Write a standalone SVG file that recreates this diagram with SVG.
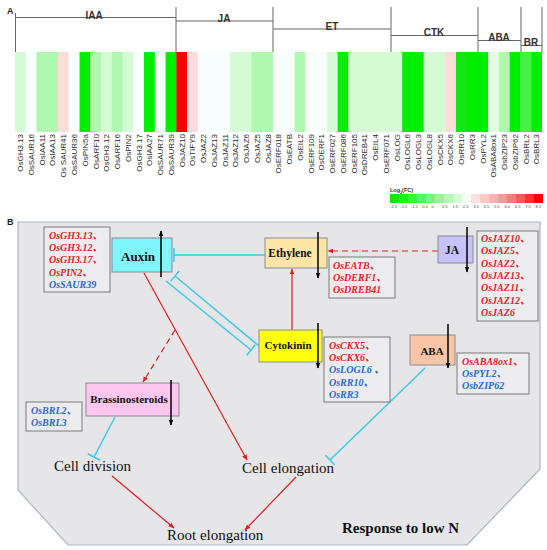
<svg xmlns="http://www.w3.org/2000/svg" width="547" height="550" viewBox="0 0 547 550">
<style>
.hl{font-family:"Liberation Sans",Arial,sans-serif;font-size:8px;fill:#2a2a2a;text-anchor:end}
.grp{font-family:"Liberation Sans",Arial,sans-serif;font-weight:bold;font-size:10px;fill:#333;text-anchor:middle}
.br{stroke:#666;stroke-width:1;fill:none}
.W{fill:#f8fdfd}.L{fill:#d4fbd4}.M{fill:#b0f7b0}.P{fill:#ffdcdc}.G{fill:#00ee00}.G2{fill:#14e614}.G3{fill:#44f044}.R{fill:#ff0000}.VL{fill:#e2fde2}
.tk{font-family:"Liberation Sans",Arial,sans-serif;font-size:4px;fill:#444}
.nb{stroke:#8a8a9a;stroke-width:1}
.nt{font-family:"Liberation Serif","Times New Roman",serif;font-weight:bold;fill:#111;text-anchor:middle}
.gbox{fill:#ececee;stroke:#7a7a7a;stroke-width:1}
.gt{font-family:"Liberation Serif","Times New Roman","Noto Sans CJK SC",serif;font-weight:bold;font-style:italic;font-size:10px}
.r{fill:#e3242b}.b{fill:#2a6ad0}
.cy{stroke:#3cc8ea;stroke-width:1.5;fill:none}
.rd{stroke:#e02020;stroke-width:1.2;fill:none}
.ind{stroke:#000;stroke-width:1.5}
.lab{font-family:"Liberation Serif","Times New Roman",serif;font-size:15px;fill:#111}
</style>
<defs>
<marker id="ahr" viewBox="0 0 10 10" refX="9" refY="5" markerWidth="6" markerHeight="6" orient="auto" markerUnits="userSpaceOnUse"><path d="M0,1 L10,5 L0,9 z" fill="#e02020"/></marker>
<marker id="ahk" viewBox="0 0 10 10" refX="9" refY="5" markerWidth="6" markerHeight="6" orient="auto" markerUnits="userSpaceOnUse"><path d="M0,1 L10,5 L0,9 z" fill="#000"/></marker>
<marker id="tb" viewBox="-2 -7 4 14" refX="0" refY="0" markerWidth="4" markerHeight="14" orient="auto" markerUnits="userSpaceOnUse"><path d="M0,-7 L0,7" stroke="#3cc8ea" stroke-width="1.5"/></marker>
</defs>
<rect width="547" height="550" fill="#fff"/>

<g id="panelA">
<text x="7" y="14" font-family="Liberation Sans,Arial,sans-serif" font-weight="bold" font-size="9" fill="#222">A</text>
<g id="brackets">
<path class="br" d="M15.5,13 V52 M176,7 V52 M273,7 V52 M391,7 V52 M478,7 V52 M521,7 V52 M542,7 V52"/>
<path class="br" d="M15.5,17.5 H176 M176,21 H273 M273,29 H391 M391,35.5 H478 M478,40.5 H521 M521,45.5 H542"/>
<text class="grp" x="94" y="18.5">IAA</text>
<text class="grp" x="224" y="22">JA</text>
<text class="grp" x="332" y="30">ET</text>
<text class="grp" x="434" y="36">CTK</text>
<text class="grp" x="499" y="41">ABA</text>
<text class="grp" x="531" y="46">BR</text>
</g>
<g id="heatmap">
<rect class="L" x="15.00" y="52" width="11.06" height="80"/>
<rect class="W" x="25.76" y="52" width="11.05" height="80"/>
<rect class="M" x="36.51" y="52" width="21.81" height="80"/>
<rect class="P" x="58.02" y="52" width="11.06" height="80"/>
<rect class="W" x="68.78" y="52" width="11.05" height="80"/>
<rect class="G" x="79.53" y="52" width="11.06" height="80"/>
<rect class="M" x="90.29" y="52" width="11.05" height="80"/>
<rect class="L" x="101.04" y="52" width="11.06" height="80"/>
<rect class="M" x="111.80" y="52" width="11.05" height="80"/>
<rect class="L" x="122.55" y="52" width="11.06" height="80"/>
<rect class="W" x="133.31" y="52" width="11.05" height="80"/>
<rect class="G" x="144.06" y="52" width="11.06" height="80"/>
<rect class="W" x="154.82" y="52" width="11.05" height="80"/>
<rect class="G" x="165.57" y="52" width="11.06" height="80"/>
<rect class="R" x="176.33" y="52" width="11.05" height="80"/>
<rect class="P" x="187.08" y="52" width="11.06" height="80"/>
<rect class="W" x="197.84" y="52" width="32.56" height="80"/>
<rect class="L" x="230.10" y="52" width="21.81" height="80"/>
<rect class="M" x="251.61" y="52" width="21.81" height="80"/>
<rect class="W" x="273.12" y="52" width="21.81" height="80"/>
<rect class="M" x="294.63" y="52" width="11.06" height="80"/>
<rect class="W" x="305.39" y="52" width="21.81" height="80"/>
<rect class="L" x="326.90" y="52" width="11.05" height="80"/>
<rect class="G" x="337.65" y="52" width="11.06" height="80"/>
<rect class="L" x="348.41" y="52" width="54.07" height="80"/>
<rect class="G" x="402.18" y="52" width="21.81" height="80"/>
<rect class="L" x="423.69" y="52" width="21.81" height="80"/>
<rect class="P" x="445.20" y="52" width="11.06" height="80"/>
<rect class="G2" x="455.96" y="52" width="11.05" height="80"/>
<rect class="G" x="466.71" y="52" width="21.81" height="80"/>
<rect class="VL" x="488.22" y="52" width="11.06" height="80"/>
<rect class="M" x="498.98" y="52" width="11.05" height="80"/>
<rect class="G" x="509.73" y="52" width="11.06" height="80"/>
<rect class="G3" x="520.49" y="52" width="11.05" height="80"/>
<rect class="G" x="531.24" y="52" width="10.76" height="80"/>
</g>
<g id="geneLabels">
<text class="hl" transform="translate(23.2,134) rotate(-90)">OsGH3.13</text>
<text class="hl" transform="translate(33.9,134) rotate(-90)">OsSAUR16</text>
<text class="hl" transform="translate(44.7,134) rotate(-90)">OsIAA11</text>
<text class="hl" transform="translate(55.4,134) rotate(-90)">OsIAA13</text>
<text class="hl" transform="translate(66.2,134) rotate(-90)">Os SAUR41</text>
<text class="hl" transform="translate(77.0,134) rotate(-90)">OsSAUR36</text>
<text class="hl" transform="translate(87.7,134) rotate(-90)">OsPIN5a</text>
<text class="hl" transform="translate(98.5,134) rotate(-90)">OsARF10</text>
<text class="hl" transform="translate(109.2,134) rotate(-90)">OsGH3.12</text>
<text class="hl" transform="translate(120.0,134) rotate(-90)">OsARF16</text>
<text class="hl" transform="translate(130.7,134) rotate(-90)">OsPIN2</text>
<text class="hl" transform="translate(141.5,134) rotate(-90)">OsGH3.17</text>
<text class="hl" transform="translate(152.2,134) rotate(-90)">OsIAA27</text>
<text class="hl" transform="translate(163.0,134) rotate(-90)">OsSAUR71</text>
<text class="hl" transform="translate(173.8,134) rotate(-90)">OsSAUR39</text>
<text class="hl" transform="translate(184.5,134) rotate(-90)">OsJAZ10</text>
<text class="hl" transform="translate(195.3,134) rotate(-90)">OsTIFY9</text>
<text class="hl" transform="translate(206.0,134) rotate(-90)">OsJAZ2</text>
<text class="hl" transform="translate(216.8,134) rotate(-90)">OsJAZ13</text>
<text class="hl" transform="translate(227.5,134) rotate(-90)">OsJAZ11</text>
<text class="hl" transform="translate(238.3,134) rotate(-90)">OsJAZ12</text>
<text class="hl" transform="translate(249.0,134) rotate(-90)">OsJAZ6</text>
<text class="hl" transform="translate(259.8,134) rotate(-90)">OsJAZ5</text>
<text class="hl" transform="translate(270.5,134) rotate(-90)">OsJAZ8</text>
<text class="hl" transform="translate(281.3,134) rotate(-90)">OsERF018</text>
<text class="hl" transform="translate(292.1,134) rotate(-90)">OsEATB</text>
<text class="hl" transform="translate(302.8,134) rotate(-90)">OsEIL2</text>
<text class="hl" transform="translate(313.6,134) rotate(-90)">OsERF109</text>
<text class="hl" transform="translate(324.3,134) rotate(-90)">OsDERF1</text>
<text class="hl" transform="translate(335.1,134) rotate(-90)">OsERF027</text>
<text class="hl" transform="translate(345.8,134) rotate(-90)">OsERF086</text>
<text class="hl" transform="translate(356.6,134) rotate(-90)">OsERF105</text>
<text class="hl" transform="translate(367.3,134) rotate(-90)">OsDREB41</text>
<text class="hl" transform="translate(378.1,134) rotate(-90)">OsEIL4</text>
<text class="hl" transform="translate(388.9,134) rotate(-90)">OsERF071</text>
<text class="hl" transform="translate(399.6,134) rotate(-90)">OsLOG</text>
<text class="hl" transform="translate(410.4,134) rotate(-90)">OsLOGL6</text>
<text class="hl" transform="translate(421.1,134) rotate(-90)">OsLOGL3</text>
<text class="hl" transform="translate(431.9,134) rotate(-90)">OsLOGL8</text>
<text class="hl" transform="translate(442.6,134) rotate(-90)">OsCKX5</text>
<text class="hl" transform="translate(453.4,134) rotate(-90)">OsCKX6</text>
<text class="hl" transform="translate(464.1,134) rotate(-90)">OsRR10</text>
<text class="hl" transform="translate(474.9,134) rotate(-90)">OsRR3</text>
<text class="hl" transform="translate(485.7,134) rotate(-90)">OsPYL2</text>
<text class="hl" transform="translate(496.4,134) rotate(-90)">OsABA8ox1</text>
<text class="hl" transform="translate(507.2,134) rotate(-90)">OsbZIP23</text>
<text class="hl" transform="translate(517.9,134) rotate(-90)">OsbZIP62</text>
<text class="hl" transform="translate(528.7,134) rotate(-90)">OsBRL2</text>
<text class="hl" transform="translate(539.4,134) rotate(-90)">OsBRL3</text>
</g>
<g id="legend">
<text x="390" y="192" font-family="Liberation Sans,Arial,sans-serif" font-weight="bold" font-size="5.5" fill="#333">Log<tspan font-size="3.5" dy="1.5">2</tspan><tspan dy="-1.5">(FC)</tspan></text>
<rect x="390" y="194" width="9.3" height="9" fill="#00ee00"/>
<rect x="399" y="194" width="9.3" height="9" fill="#1ef01e"/>
<rect x="408" y="194" width="9.3" height="9" fill="#3cf23c"/>
<rect x="417" y="194" width="9.3" height="9" fill="#5af45a"/>
<rect x="426" y="194" width="9.3" height="9" fill="#78f678"/>
<rect x="435" y="194" width="9.3" height="9" fill="#96f896"/>
<rect x="444" y="194" width="9.3" height="9" fill="#b4fab4"/>
<rect x="453" y="194" width="9.3" height="9" fill="#d2fcd2"/>
<rect x="462" y="194" width="9.3" height="9" fill="#f6fff6"/>
<rect x="471" y="194" width="9.3" height="9" fill="#ffe0e0"/>
<rect x="480" y="194" width="9.3" height="9" fill="#ffc8c8"/>
<rect x="489" y="194" width="9.3" height="9" fill="#ffb0b0"/>
<rect x="498" y="194" width="9.3" height="9" fill="#ff9898"/>
<rect x="507" y="194" width="9.3" height="9" fill="#ff7a7a"/>
<rect x="516" y="194" width="9.3" height="9" fill="#ff5a5a"/>
<rect x="525" y="194" width="9.3" height="9" fill="#ff3030"/>
<rect x="534" y="194" width="9" height="9" fill="#ff0000"/>
<text class="tk" x="390" y="207.5">-3.5</text>
<text class="tk" x="400.4" y="207.5">-2.5</text>
<text class="tk" x="410.8" y="207.5">-1.5</text>
<text class="tk" x="421.2" y="207.5">-0.5</text>
<text class="tk" x="431.6" y="207.5">0</text>
<text class="tk" x="442" y="207.5">0.5</text>
<text class="tk" x="452.4" y="207.5">1.5</text>
<text class="tk" x="462.8" y="207.5">2.5</text>
<text class="tk" x="473.2" y="207.5">3.5</text>
<text class="tk" x="483.6" y="207.5">4.5</text>
<text class="tk" x="494" y="207.5">5.5</text>
<text class="tk" x="504.4" y="207.5">6.0</text>
<text class="tk" x="514.8" y="207.5">6.5</text>
<text class="tk" x="525.2" y="207.5">7.5</text>
<text class="tk" x="535.6" y="207.5">8.5</text>
</g>
</g>

<g id="panelB">
<text x="7" y="225" font-family="Liberation Sans,Arial,sans-serif" font-weight="bold" font-size="9" fill="#222">B</text>
<path d="M18,222 L540,222 L540,469 L467,545 L68,545 L18,490 Z" fill="#e6e6e8" stroke="#a6b6c8" stroke-width="1.2"/>

<g id="connectors">
<line class="cy" x1="265" y1="255" x2="174" y2="255" marker-end="url(#tb)"/>
<line class="cy" x1="259" y1="346" x2="175" y2="276" marker-end="url(#tb)"/>
<line class="cy" x1="166" y1="281" x2="251" y2="350" marker-end="url(#tb)"/>
<line class="rd" x1="438" y1="251" x2="328" y2="251" stroke-dasharray="6,4" marker-end="url(#ahr)"/>
<line class="rd" x1="292" y1="330" x2="292" y2="269" marker-end="url(#ahr)"/>
<line class="rd" x1="175" y1="330" x2="143" y2="382" stroke-dasharray="6,4" marker-end="url(#ahr)"/>
<line class="rd" x1="144" y1="273" x2="247" y2="460" marker-end="url(#ahr)"/>
<line class="cy" x1="115" y1="417" x2="94" y2="457" marker-end="url(#tb)"/>
<line class="cy" x1="425" y1="368" x2="330" y2="460" marker-end="url(#tb)"/>
<line class="rd" x1="112" y1="476" x2="174" y2="528" marker-end="url(#ahr)"/>
<line class="rd" x1="296" y1="477" x2="245" y2="530" marker-end="url(#ahr)"/>
</g>

<g id="auxin">
<rect class="nb" x="112" y="238" width="60" height="34" fill="#7ff6fb"/>
<text class="nt" x="138" y="261" font-size="13">Auxin</text>
<line class="ind" x1="161" y1="277" x2="161" y2="231" marker-end="url(#ahk)"/>
</g>
<g id="auxin-genes">
<rect class="gbox" x="44" y="227" width="66" height="65"/>
<text class="gt r" x="49" y="238.5">OsGH3.13、</text>
<text class="gt r" x="49" y="251">OsGH3.12、</text>
<text class="gt r" x="49" y="263">OsGH3.17、</text>
<text class="gt r" x="49" y="275.5">OsPIN2、</text>
<text class="gt b" x="49" y="287.5">OsSAUR39</text>
</g>

<g id="ethylene">
<rect class="nb" x="265" y="238" width="62" height="30" fill="#fde5a6"/>
<text class="nt" x="290" y="257" font-size="11.5">Ethylene</text>
<line class="ind" x1="318" y1="232" x2="318" y2="278" marker-end="url(#ahk)"/>
</g>
<g id="ethylene-genes">
<rect class="gbox" x="329" y="257" width="66" height="41"/>
<text class="gt r" x="333" y="268.5">OsEATB、</text>
<text class="gt r" x="333" y="280.5">OsDERF1、</text>
<text class="gt r" x="333" y="292.5">OsDREB41</text>
</g>

<g id="ja">
<rect class="nb" x="438" y="236" width="35" height="27" fill="#c5c3f8"/>
<text class="nt" x="452" y="254" font-size="11.5">JA</text>
<line class="ind" x1="467" y1="227" x2="467" y2="272" marker-end="url(#ahk)"/>
</g>
<g id="ja-genes">
<rect class="gbox" x="477" y="231" width="61" height="90"/>
<text class="gt r" x="481" y="242">OsJAZ10、</text>
<text class="gt r" x="481" y="254.3">OsJAZ5、</text>
<text class="gt r" x="481" y="266.6">OsJAZ2、</text>
<text class="gt r" x="481" y="278.9">OsJAZ13、</text>
<text class="gt r" x="481" y="291.2">OsJAZ11、</text>
<text class="gt r" x="481" y="303.5">OsJAZ12、</text>
<text class="gt r" x="481" y="315.8">OsJAZ6</text>
</g>

<g id="cytokinin">
<rect class="nb" x="259" y="330" width="63" height="32" fill="#ffff10"/>
<text class="nt" x="288" y="349" font-size="11">Cytokinin</text>
<line class="ind" x1="318" y1="323" x2="318" y2="368" marker-end="url(#ahk)"/>
</g>
<g id="cytokinin-genes">
<rect class="gbox" x="324" y="337" width="66" height="65"/>
<text class="gt r" x="329" y="348.5">OsCKX5、</text>
<text class="gt r" x="329" y="361">OsCKX6、</text>
<text class="gt b" x="329" y="373">OsLOGL6 、</text>
<text class="gt b" x="329" y="385.5">OsRR10、</text>
<text class="gt b" x="329" y="397.5">OsRR3</text>
</g>

<g id="aba">
<rect class="nb" x="410" y="335" width="45" height="30" fill="#f9c5a6"/>
<text class="nt" x="432" y="355" font-size="11">ABA</text>
<line class="ind" x1="448" y1="324" x2="448" y2="368" marker-end="url(#ahk)"/>
</g>
<g id="aba-genes">
<rect class="gbox" x="457" y="353" width="72" height="41"/>
<text class="gt r" x="462" y="364.5">OsABA8ox1、</text>
<text class="gt b" x="462" y="376.5">OsPYL2、</text>
<text class="gt b" x="462" y="388.5">OsbZIP62</text>
</g>

<g id="brassinosteroids">
<rect class="nb" x="86" y="383" width="93" height="33" fill="#fcc6ee"/>
<text class="nt" x="129" y="403" font-size="11">Brassinosteroids</text>
<line class="ind" x1="171" y1="380" x2="171" y2="425" marker-end="url(#ahk)"/>
</g>
<g id="br-genes">
<rect class="gbox" x="26" y="402" width="56" height="29"/>
<text class="gt b" x="31" y="414">OsBRL2、</text>
<text class="gt b" x="31" y="426">OsBRL3</text>
</g>

<g id="cell-division"><text class="lab" x="54" y="471">Cell division</text></g>
<g id="cell-elongation"><text class="lab" x="242" y="473">Cell elongation</text></g>
<g id="root-elongation"><text class="lab" x="167" y="540">Root elongation</text></g>
<g id="title-b"><text class="lab" x="342" y="533" font-weight="bold">Response to low N</text></g>
</g>
</svg>
